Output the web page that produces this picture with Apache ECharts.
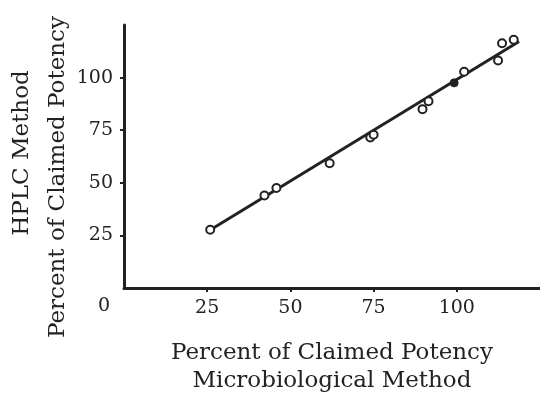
<!DOCTYPE html>
<html>
<head>
<meta charset="utf-8">
<script src="https://cdn.jsdelivr.net/npm/echarts@6/dist/echarts.min.js"></script>
<style>html,body{margin:0;padding:0;background:#fff}#c{width:540px;height:393px}</style>
</head>
<body>
<div id="c"></div>
<script>
// Microbiological method (x) vs HPLC method (y), percent of claimed potency
var microX = [25.9, 42.2, 45.8, 61.8, 74.0, 75.0, 89.7, 91.5, 102.2, 112.4, 113.6, 117.1];
var hplcY  = [27.7, 44.0, 47.5, 59.3, 71.5, 72.8, 85.0, 88.8, 102.8, 108.1, 116.3, 118.0];
var filledX = [99.2];
var filledY = [97.5];
var fitX = [26.0, 118.7];
var fitY = [27.7, 117.2];
var tickValues = [25, 50, 75, 100];
var xTitle = 'Percent of Claimed Potency\nMicrobiological Method';
var yTitle1 = 'HPLC Method';
var yTitle2 = 'Percent of Claimed Potency';
var originLabel = '0';

var FONT = 'DejaVu Serif';
var INK = '#222';

function pairs(xs, ys) { return xs.map(function (x, i) { return [x, ys[i]]; }); }

var chart = echarts.init(document.getElementById('c'));
chart.setOption({
  backgroundColor: '#fff',
  animation: false,
  grid: { left: 124, right: 0, top: 25, bottom: 105, containLabel: false, outerBoundsMode: 'none' },
  xAxis: {
    type: 'value', min: 0, max: 125, interval: 25,
    splitLine: { show: false },
    axisLine: { lineStyle: { color: INK, width: 3 } },
    axisTick: { show: true, length: 4, lineStyle: { color: INK, width: 2 }, customValues: tickValues },
    axisLabel: { customValues: tickValues, color: INK, fontFamily: FONT, fontSize: 19, margin: 11 },
    name: xTitle, nameLocation: 'middle', nameGap: 51,
    nameTextStyle: { color: INK, fontFamily: FONT, fontSize: 23, lineHeight: 28 }
  },
  yAxis: {
    type: 'value', min: 0, max: 125, interval: 25,
    splitLine: { show: false },
    axisLine: { lineStyle: { color: INK, width: 3 } },
    axisTick: { show: true, length: 4, lineStyle: { color: INK, width: 2 }, customValues: tickValues },
    axisLabel: { customValues: tickValues, color: INK, fontFamily: FONT, fontSize: 19, margin: 11 }
  },
  graphic: [
    { type: 'text', left: 98, top: 297, style: { text: originLabel, fill: INK, font: '19px "DejaVu Serif"' } },
    { type: 'text', x: 22, y: 153, rotation: Math.PI / 2,
      style: { text: yTitle1, fill: INK, font: '23px "DejaVu Serif"', align: 'center', verticalAlign: 'middle' } },
    { type: 'text', x: 58, y: 177, rotation: Math.PI / 2,
      style: { text: yTitle2, fill: INK, font: '23px "DejaVu Serif"', align: 'center', verticalAlign: 'middle' } }
  ],
  series: [
    { type: 'line', data: pairs(fitX, fitY), symbol: 'none', z: 1,
      lineStyle: { color: INK, width: 3 } },
    { type: 'scatter', data: pairs(microX, hplcY), symbol: 'circle', symbolSize: 8, z: 3,
      itemStyle: { color: '#fff', borderColor: INK, borderWidth: 2, opacity: 1 } },
    { type: 'scatter', data: pairs(filledX, filledY), symbol: 'circle', symbolSize: 8, z: 3,
      itemStyle: { color: INK, borderColor: INK, borderWidth: 1, opacity: 1 } }
  ]
});
</script>
</body>
</html>
